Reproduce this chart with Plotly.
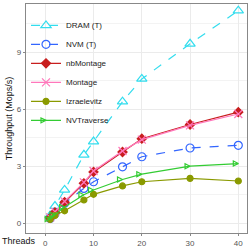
import plotly.graph_objects as go

threads = [1, 2, 4, 8, 10, 16, 20, 30, 40]
dram = [0.4, 0.9, 1.75, 3.6, 4.3, 6.4, 7.6, 9.45, 11.2]
nvm = [0.25, 0.5, 1.05, 1.83, 2.18, 2.97, 3.5, 3.96, 4.1]
nbmontage = [0.28, 0.57, 1.1, 2.1, 2.7, 3.75, 4.45, 5.2, 5.85]
montage = [0.3, 0.6, 1.15, 2.15, 2.75, 3.8, 4.4, 5.15, 5.75]
izraelevitz = [0.2, 0.4, 0.65, 1.22, 1.52, 1.96, 2.18, 2.36, 2.22]
nvtraverse = [0.22, 0.45, 0.85, 1.5, 1.75, 2.3, 2.58, 3.0, 3.14]

series = [
    ("DRAM (T)", dram, "#33DDEE", "triangle-up-open", "dash", 9),
    ("NVM (T)", nvm, "#3366FF", "circle-open", "dash", 8),
    ("nbMontage", nbmontage, "#C81E1E", "diamond", "solid", 7),
    ("Montage", montage, "#FF77BB", "x-thin-open", "solid", 8),
    ("Izraelevitz", izraelevitz, "#8A9A00", "circle", "solid", 6),
    ("NVTraverse", nvtraverse, "#33CC33", "arrow-right-open", "solid", 5),
]

fig = go.Figure()
for name, ys, color, sym, dash, size in series:
    fig.add_trace(go.Scatter(
        x=threads, y=ys, name=name, mode="lines+markers",
        line=dict(color=color, width=1.2, dash=dash),
        marker=dict(symbol=sym, size=size, color=color,
                    line=dict(color=color, width=1.2)),
    ))

fig.update_layout(
    width=249, height=249,
    margin=dict(l=26, r=1, t=4, b=13),
    paper_bgcolor="white", plot_bgcolor="white",
    font=dict(family="Liberation Sans, Arial, sans-serif", size=8, color="#222"),
    showlegend=True,
    legend=dict(x=0.0, y=0.97, xanchor="left", yanchor="top",
                bgcolor="rgba(0,0,0,0)", font=dict(size=8, color="#222"),
                tracegroupgap=0, itemwidth=30),
    xaxis=dict(range=[-4, 41.8], tickvals=[0, 10, 20, 30, 40],
               showgrid=True, gridcolor="#EBEBEB", gridwidth=1,
               showline=True, linecolor="#888", linewidth=1.2, mirror=True,
               ticks="outside", ticklen=2, tickcolor="#888",
               tickfont=dict(size=8, color="#555"), zeroline=False),
    yaxis=dict(range=[-0.52, 11.55], tickvals=[0, 3, 6, 9],
               showgrid=True, gridcolor="#EBEBEB", gridwidth=1,
               minor=dict(tickvals=[1.5, 4.5, 7.5, 10.5], showgrid=True,
                          gridcolor="#F3F3F3", gridwidth=0.6),
               showline=True, linecolor="#888", linewidth=1.2, mirror=True,
               ticks="outside", ticklen=2, tickcolor="#888",
               tickfont=dict(size=8, color="#555"), zeroline=False,
               title=dict(text="Throughput (Mops/s)", font=dict(size=9, color="#111"),
                          standoff=2)),
)
fig.add_annotation(text="Threads", x=0, y=0, xref="paper", yref="paper",
                   xanchor="left", yanchor="top", xshift=-26, yshift=-1,
                   showarrow=False, font=dict(size=9, color="#111"))

fig.write_html("out.html", config={"displayModeBar": False},
               post_script="document.body.style.margin='0';document.body.style.overflow='hidden';")
